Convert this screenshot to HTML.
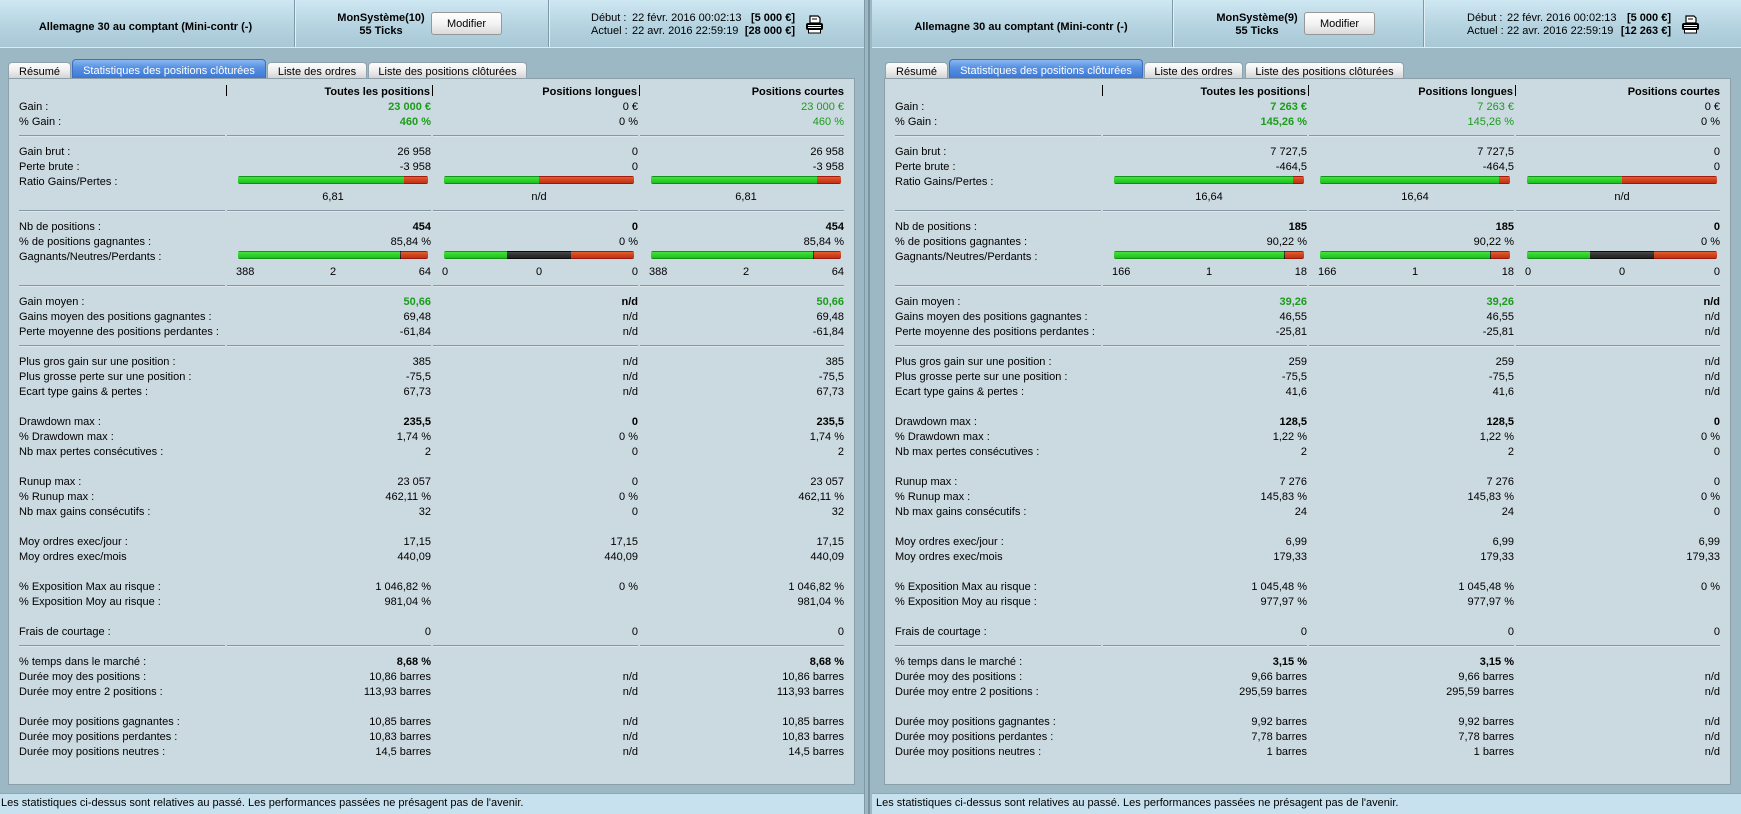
<!DOCTYPE html>
<html><head><meta charset="utf-8">
<style>
*{margin:0;padding:0;box-sizing:border-box}
body{width:1741px;height:814px;overflow:hidden;position:relative;background:#9db8c5;font-family:"Liberation Sans",Arial,sans-serif;font-size:11px;color:#000}
.abs{position:absolute}
.hdr{position:absolute;top:0;height:48px;background:linear-gradient(#cfe8f3,#b5d3e0 55%,#a8c8d6);border-bottom:1px solid #dbebf2}
.vd{position:absolute;top:0;height:47px;width:2px;border-left:1px solid #7f99a7;border-right:1px solid #e0eff6}
.ttl{position:absolute;top:20px;line-height:14px;text-align:center;font-weight:bold;white-space:nowrap}
.sys{position:absolute;top:12px;width:100px;line-height:13px;text-align:center;font-weight:bold;white-space:nowrap}
.btn{position:absolute;top:12px;height:23px;width:71px;border:1px solid #979797;border-radius:3px;background:linear-gradient(#fff,#f3f3f3 50%,#dadada);text-align:center;line-height:23px}
.dt{position:absolute;top:12px;height:26px}
.dt div{position:relative;height:13px;line-height:13px;white-space:nowrap}
.dt span{position:absolute;top:0}
.tab{position:absolute;top:62px;height:16px;line-height:19px;text-align:center;border:1px solid #8ea2ad;border-bottom:none;border-radius:4px 4px 0 0;background:linear-gradient(#fdfdfd,#ececec 55%,#d4d4d4);white-space:nowrap}
.tab.on{top:59px;height:19px;line-height:22px;color:#fff;background:linear-gradient(#8ab8f0,#5a93e3 40%,#3d77d3);border-color:#3b6fc0}
.pnl{position:absolute;top:78px;height:707px;width:847px;background:#cbd9e0;border:1px solid #8d9fa9}
.grp{position:absolute;top:83px;width:870px}
.r{position:relative;height:15px;line-height:15px;white-space:nowrap}
.r>span{position:absolute;top:2px}
.l{left:19px}
.a{left:227px;width:204px;text-align:right}
.m{left:433px;width:205px;text-align:right}
.c{left:640px;width:204px;text-align:right}
.b{font-weight:bold}
.g{color:#1b9d1b}
.cx{width:80px;margin-left:-40px;text-align:center}
.ln{position:absolute;top:7px;height:2px;border-top:1px solid #8598a4;border-bottom:1px solid #dce6eb}
.l1{left:19px;width:206px}.l2{left:227px;width:204px}.l3{left:433px;width:205px}.l4{left:640px;width:204px}
.vb{position:absolute;top:2px;width:1px;height:11px;background:#000}
.bar{position:absolute;top:3px;height:8px;width:190px;display:flex;border-radius:2px;overflow:hidden}
.bar i{display:block;height:8px}
.G{background:linear-gradient(#13921a 0,#13921a 1px,#45e23c 1px,#2fd22b 4px,#22bd22 7px,#138c16 7px)}
.R{background:linear-gradient(#a3190f 0,#a3190f 1px,#e0602e 1px,#d2441f 4px,#bd3419 7px,#961a10 7px)}
.K{background:linear-gradient(#0a0a0a 0,#0a0a0a 1px,#4a4a4a 1px,#303030 4px,#222 7px,#0a0a0a 7px)}
.b1{left:238px}.b2{left:444px}.b3{left:651px}
.ft{position:absolute;top:793px;height:21px;background:#c7e2ee;border-top:1px solid #8ea7b3;line-height:19px;white-space:nowrap}
</style></head><body>

<!-- splitter -->
<div class="abs" style="left:864px;top:0;width:1px;height:814px;background:#7f99a6"></div>
<div class="abs" style="left:868px;top:0;width:2px;height:814px;background:#7a94a2"></div>

<!-- LEFT HEADER -->
<div class="hdr" style="left:0;width:864px"></div>
<div class="vd" style="left:294px"></div>
<div class="vd" style="left:548px"></div>
<div class="ttl" style="left:0;width:291px">Allemagne 30 au comptant (Mini-contr (-)</div>
<div class="sys" style="left:331px">MonSystème(10)<br>55 Ticks</div>
<div class="btn" style="left:431px">Modifier</div>
<div class="dt" style="left:591px;width:204px">
<div><span style="left:0">Début :</span><span style="left:41px">22 févr. 2016 00:02:13</span><span class="b" style="right:0">[5 000 €]</span></div>
<div><span style="left:0">Actuel :</span><span style="left:41px">22 avr. 2016 22:59:19</span><span class="b" style="right:0">[28 000 €]</span></div>
</div>
<svg class="abs" style="left:805px;top:15px" width="19" height="19" viewBox="0 0 19 19">
<path d="M5 1 L13 1 L15 3 L15 8 L5 8 Z" fill="#fff" stroke="#000" stroke-width="1.2"/>
<line x1="7" y1="4" x2="12" y2="4" stroke="#000"/>
<rect x="1" y="8" width="17" height="7" rx="2" fill="#000"/>
<line x1="3" y1="10.5" x2="16" y2="10.5" stroke="#fff"/>
<line x1="3" y1="12.5" x2="16" y2="12.5" stroke="#fff"/>
<rect x="3.5" y="14.5" width="12" height="3.5" fill="#fff" stroke="#000"/>
</svg>

<!-- LEFT TABS / PANEL -->
<div class="pnl" style="left:8px"></div>
<div class="tab" style="left:8px;width:63px">Résumé</div>
<div class="tab on" style="left:72px;width:194px">Statistiques des positions clôturées</div>
<div class="tab" style="left:267px;width:100px">Liste des ordres</div>
<div class="tab" style="left:368px;width:159px">Liste des positions clôturées</div>

<div class="grp" style="left:0">
<div class="r b"><i class="vb" style="left:226px"></i><span class="a" style="width:203px">Toutes les positions</span><i class="vb" style="left:432px"></i><span class="m" style="width:204px">Positions longues</span><i class="vb" style="left:639px"></i><span class="c">Positions courtes</span></div>
<div class="r"><span class="l">Gain :</span><span class="a b g">23 000 €</span><span class="m">0 €</span><span class="c g">23 000 €</span></div>
<div class="r"><span class="l">% Gain :</span><span class="a b g">460 %</span><span class="m">0 %</span><span class="c g">460 %</span></div>
<div class="r"><i class="ln l1"></i><i class="ln l2"></i><i class="ln l3"></i><i class="ln l4"></i></div>
<div class="r"><span class="l">Gain brut :</span><span class="a">26 958</span><span class="m">0</span><span class="c">26 958</span></div>
<div class="r"><span class="l">Perte brute :</span><span class="a">-3 958</span><span class="m">0</span><span class="c">-3 958</span></div>
<div class="r"><span class="l">Ratio Gains/Pertes :</span>
<div class="bar b1"><i class="G" style="width:166px"></i><i class="R" style="width:24px"></i></div>
<div class="bar b2"><i class="G" style="width:95px"></i><i class="R" style="width:95px"></i></div>
<div class="bar b3"><i class="G" style="width:166px"></i><i class="R" style="width:24px"></i></div></div>
<div class="r"><span class="cx" style="left:333px">6,81</span><span class="cx" style="left:539px">n/d</span><span class="cx" style="left:746px">6,81</span></div>
<div class="r"><i class="ln l1"></i><i class="ln l2"></i><i class="ln l3"></i><i class="ln l4"></i></div>
<div class="r"><span class="l">Nb de positions :</span><span class="a b">454</span><span class="m b">0</span><span class="c b">454</span></div>
<div class="r"><span class="l">% de positions gagnantes :</span><span class="a">85,84 %</span><span class="m">0 %</span><span class="c">85,84 %</span></div>
<div class="r"><span class="l">Gagnants/Neutres/Perdants :</span>
<div class="bar b1"><i class="G" style="width:162px"></i><i class="K" style="width:1px"></i><i class="R" style="width:27px"></i></div>
<div class="bar b2"><i class="G" style="width:63px"></i><i class="K" style="width:64px"></i><i class="R" style="width:63px"></i></div>
<div class="bar b3"><i class="G" style="width:162px"></i><i class="K" style="width:1px"></i><i class="R" style="width:27px"></i></div></div>
<div class="r"><span style="left:236px">388</span><span class="cx" style="left:333px">2</span><span class="a">64</span><span style="left:442px">0</span><span class="cx" style="left:539px">0</span><span class="m">0</span><span style="left:649px">388</span><span class="cx" style="left:746px">2</span><span class="c">64</span></div>
<div class="r"><i class="ln l1"></i><i class="ln l2"></i><i class="ln l3"></i><i class="ln l4"></i></div>
<div class="r"><span class="l">Gain moyen :</span><span class="a b g">50,66</span><span class="m b">n/d</span><span class="c b g">50,66</span></div>
<div class="r"><span class="l">Gains moyen des positions gagnantes :</span><span class="a">69,48</span><span class="m">n/d</span><span class="c">69,48</span></div>
<div class="r"><span class="l">Perte moyenne des positions perdantes :</span><span class="a">-61,84</span><span class="m">n/d</span><span class="c">-61,84</span></div>
<div class="r"><i class="ln l1"></i><i class="ln l2"></i><i class="ln l3"></i><i class="ln l4"></i></div>
<div class="r"><span class="l">Plus gros gain sur une position :</span><span class="a">385</span><span class="m">n/d</span><span class="c">385</span></div>
<div class="r"><span class="l">Plus grosse perte sur une position :</span><span class="a">-75,5</span><span class="m">n/d</span><span class="c">-75,5</span></div>
<div class="r"><span class="l">Ecart type gains &amp; pertes :</span><span class="a">67,73</span><span class="m">n/d</span><span class="c">67,73</span></div>
<div class="r"></div>
<div class="r"><span class="l">Drawdown max :</span><span class="a b">235,5</span><span class="m b">0</span><span class="c b">235,5</span></div>
<div class="r"><span class="l">% Drawdown max :</span><span class="a">1,74 %</span><span class="m">0 %</span><span class="c">1,74 %</span></div>
<div class="r"><span class="l">Nb max pertes consécutives :</span><span class="a">2</span><span class="m">0</span><span class="c">2</span></div>
<div class="r"></div>
<div class="r"><span class="l">Runup max :</span><span class="a">23 057</span><span class="m">0</span><span class="c">23 057</span></div>
<div class="r"><span class="l">% Runup max :</span><span class="a">462,11 %</span><span class="m">0 %</span><span class="c">462,11 %</span></div>
<div class="r"><span class="l">Nb max gains consécutifs :</span><span class="a">32</span><span class="m">0</span><span class="c">32</span></div>
<div class="r"></div>
<div class="r"><span class="l">Moy ordres exec/jour :</span><span class="a">17,15</span><span class="m">17,15</span><span class="c">17,15</span></div>
<div class="r"><span class="l">Moy ordres exec/mois</span><span class="a">440,09</span><span class="m">440,09</span><span class="c">440,09</span></div>
<div class="r"></div>
<div class="r"><span class="l">% Exposition Max au risque :</span><span class="a">1 046,82 %</span><span class="m">0 %</span><span class="c">1 046,82 %</span></div>
<div class="r"><span class="l">% Exposition Moy au risque :</span><span class="a">981,04 %</span><span class="c">981,04 %</span></div>
<div class="r"></div>
<div class="r"><span class="l">Frais de courtage :</span><span class="a">0</span><span class="m">0</span><span class="c">0</span></div>
<div class="r"><i class="ln l1"></i><i class="ln l2"></i><i class="ln l3"></i><i class="ln l4"></i></div>
<div class="r"><span class="l">% temps dans le marché :</span><span class="a b">8,68 %</span><span class="c b">8,68 %</span></div>
<div class="r"><span class="l">Durée moy des positions :</span><span class="a">10,86 barres</span><span class="m">n/d</span><span class="c">10,86 barres</span></div>
<div class="r"><span class="l">Durée moy entre 2 positions :</span><span class="a">113,93 barres</span><span class="m">n/d</span><span class="c">113,93 barres</span></div>
<div class="r"></div>
<div class="r"><span class="l">Durée moy positions gagnantes :</span><span class="a">10,85 barres</span><span class="m">n/d</span><span class="c">10,85 barres</span></div>
<div class="r"><span class="l">Durée moy positions perdantes :</span><span class="a">10,83 barres</span><span class="m">n/d</span><span class="c">10,83 barres</span></div>
<div class="r"><span class="l">Durée moy positions neutres :</span><span class="a">14,5 barres</span><span class="m">n/d</span><span class="c">14,5 barres</span></div>
</div>

<div class="ft" style="left:0;width:864px;padding-left:1px">Les statistiques ci-dessus sont relatives au passé. Les performances passées ne présagent pas de l'avenir.</div>

<!-- RIGHT HEADER -->
<div class="hdr" style="left:872px;width:869px"></div>
<div class="vd" style="left:1172px"></div>
<div class="vd" style="left:1423px"></div>
<div class="ttl" style="left:873px;width:296px">Allemagne 30 au comptant (Mini-contr (-)</div>
<div class="sys" style="left:1207px">MonSystème(9)<br>55 Ticks</div>
<div class="btn" style="left:1304px">Modifier</div>
<div class="dt" style="left:1467px;width:204px">
<div><span style="left:0">Début :</span><span style="left:40px">22 févr. 2016 00:02:13</span><span class="b" style="right:0">[5 000 €]</span></div>
<div><span style="left:0">Actuel :</span><span style="left:40px">22 avr. 2016 22:59:19</span><span class="b" style="right:0">[12 263 €]</span></div>
</div>
<svg class="abs" style="left:1681px;top:15px" width="19" height="19" viewBox="0 0 19 19">
<path d="M5 1 L13 1 L15 3 L15 8 L5 8 Z" fill="#fff" stroke="#000" stroke-width="1.2"/>
<line x1="7" y1="4" x2="12" y2="4" stroke="#000"/>
<rect x="1" y="8" width="17" height="7" rx="2" fill="#000"/>
<line x1="3" y1="10.5" x2="16" y2="10.5" stroke="#fff"/>
<line x1="3" y1="12.5" x2="16" y2="12.5" stroke="#fff"/>
<rect x="3.5" y="14.5" width="12" height="3.5" fill="#fff" stroke="#000"/>
</svg>

<!-- RIGHT TABS / PANEL -->
<div class="pnl" style="left:884px"></div>
<div class="tab" style="left:885px;width:63px">Résumé</div>
<div class="tab on" style="left:949px;width:194px">Statistiques des positions clôturées</div>
<div class="tab" style="left:1144px;width:99px">Liste des ordres</div>
<div class="tab" style="left:1245px;width:159px">Liste des positions clôturées</div>

<div class="grp" style="left:876px">
<div class="r b"><i class="vb" style="left:226px"></i><span class="a" style="width:203px">Toutes les positions</span><i class="vb" style="left:432px"></i><span class="m" style="width:204px">Positions longues</span><i class="vb" style="left:639px"></i><span class="c">Positions courtes</span></div>
<div class="r"><span class="l">Gain :</span><span class="a b g">7 263 €</span><span class="m g">7 263 €</span><span class="c">0 €</span></div>
<div class="r"><span class="l">% Gain :</span><span class="a b g">145,26 %</span><span class="m g">145,26 %</span><span class="c">0 %</span></div>
<div class="r"><i class="ln l1"></i><i class="ln l2"></i><i class="ln l3"></i><i class="ln l4"></i></div>
<div class="r"><span class="l">Gain brut :</span><span class="a">7 727,5</span><span class="m">7 727,5</span><span class="c">0</span></div>
<div class="r"><span class="l">Perte brute :</span><span class="a">-464,5</span><span class="m">-464,5</span><span class="c">0</span></div>
<div class="r"><span class="l">Ratio Gains/Pertes :</span>
<div class="bar b1"><i class="G" style="width:179px"></i><i class="R" style="width:11px"></i></div>
<div class="bar b2"><i class="G" style="width:179px"></i><i class="R" style="width:11px"></i></div>
<div class="bar b3"><i class="G" style="width:95px"></i><i class="R" style="width:95px"></i></div></div>
<div class="r"><span class="cx" style="left:333px">16,64</span><span class="cx" style="left:539px">16,64</span><span class="cx" style="left:746px">n/d</span></div>
<div class="r"><i class="ln l1"></i><i class="ln l2"></i><i class="ln l3"></i><i class="ln l4"></i></div>
<div class="r"><span class="l">Nb de positions :</span><span class="a b">185</span><span class="m b">185</span><span class="c b">0</span></div>
<div class="r"><span class="l">% de positions gagnantes :</span><span class="a">90,22 %</span><span class="m">90,22 %</span><span class="c">0 %</span></div>
<div class="r"><span class="l">Gagnants/Neutres/Perdants :</span>
<div class="bar b1"><i class="G" style="width:170px"></i><i class="K" style="width:1px"></i><i class="R" style="width:19px"></i></div>
<div class="bar b2"><i class="G" style="width:170px"></i><i class="K" style="width:1px"></i><i class="R" style="width:19px"></i></div>
<div class="bar b3"><i class="G" style="width:63px"></i><i class="K" style="width:64px"></i><i class="R" style="width:63px"></i></div></div>
<div class="r"><span style="left:236px">166</span><span class="cx" style="left:333px">1</span><span class="a">18</span><span style="left:442px">166</span><span class="cx" style="left:539px">1</span><span class="m">18</span><span style="left:649px">0</span><span class="cx" style="left:746px">0</span><span class="c">0</span></div>
<div class="r"><i class="ln l1"></i><i class="ln l2"></i><i class="ln l3"></i><i class="ln l4"></i></div>
<div class="r"><span class="l">Gain moyen :</span><span class="a b g">39,26</span><span class="m b g">39,26</span><span class="c b">n/d</span></div>
<div class="r"><span class="l">Gains moyen des positions gagnantes :</span><span class="a">46,55</span><span class="m">46,55</span><span class="c">n/d</span></div>
<div class="r"><span class="l">Perte moyenne des positions perdantes :</span><span class="a">-25,81</span><span class="m">-25,81</span><span class="c">n/d</span></div>
<div class="r"><i class="ln l1"></i><i class="ln l2"></i><i class="ln l3"></i><i class="ln l4"></i></div>
<div class="r"><span class="l">Plus gros gain sur une position :</span><span class="a">259</span><span class="m">259</span><span class="c">n/d</span></div>
<div class="r"><span class="l">Plus grosse perte sur une position :</span><span class="a">-75,5</span><span class="m">-75,5</span><span class="c">n/d</span></div>
<div class="r"><span class="l">Ecart type gains &amp; pertes :</span><span class="a">41,6</span><span class="m">41,6</span><span class="c">n/d</span></div>
<div class="r"></div>
<div class="r"><span class="l">Drawdown max :</span><span class="a b">128,5</span><span class="m b">128,5</span><span class="c b">0</span></div>
<div class="r"><span class="l">% Drawdown max :</span><span class="a">1,22 %</span><span class="m">1,22 %</span><span class="c">0 %</span></div>
<div class="r"><span class="l">Nb max pertes consécutives :</span><span class="a">2</span><span class="m">2</span><span class="c">0</span></div>
<div class="r"></div>
<div class="r"><span class="l">Runup max :</span><span class="a">7 276</span><span class="m">7 276</span><span class="c">0</span></div>
<div class="r"><span class="l">% Runup max :</span><span class="a">145,83 %</span><span class="m">145,83 %</span><span class="c">0 %</span></div>
<div class="r"><span class="l">Nb max gains consécutifs :</span><span class="a">24</span><span class="m">24</span><span class="c">0</span></div>
<div class="r"></div>
<div class="r"><span class="l">Moy ordres exec/jour :</span><span class="a">6,99</span><span class="m">6,99</span><span class="c">6,99</span></div>
<div class="r"><span class="l">Moy ordres exec/mois</span><span class="a">179,33</span><span class="m">179,33</span><span class="c">179,33</span></div>
<div class="r"></div>
<div class="r"><span class="l">% Exposition Max au risque :</span><span class="a">1 045,48 %</span><span class="m">1 045,48 %</span><span class="c">0 %</span></div>
<div class="r"><span class="l">% Exposition Moy au risque :</span><span class="a">977,97 %</span><span class="m">977,97 %</span></div>
<div class="r"></div>
<div class="r"><span class="l">Frais de courtage :</span><span class="a">0</span><span class="m">0</span><span class="c">0</span></div>
<div class="r"><i class="ln l1"></i><i class="ln l2"></i><i class="ln l3"></i><i class="ln l4"></i></div>
<div class="r"><span class="l">% temps dans le marché :</span><span class="a b">3,15 %</span><span class="m b">3,15 %</span></div>
<div class="r"><span class="l">Durée moy des positions :</span><span class="a">9,66 barres</span><span class="m">9,66 barres</span><span class="c">n/d</span></div>
<div class="r"><span class="l">Durée moy entre 2 positions :</span><span class="a">295,59 barres</span><span class="m">295,59 barres</span><span class="c">n/d</span></div>
<div class="r"></div>
<div class="r"><span class="l">Durée moy positions gagnantes :</span><span class="a">9,92 barres</span><span class="m">9,92 barres</span><span class="c">n/d</span></div>
<div class="r"><span class="l">Durée moy positions perdantes :</span><span class="a">7,78 barres</span><span class="m">7,78 barres</span><span class="c">n/d</span></div>
<div class="r"><span class="l">Durée moy positions neutres :</span><span class="a">1 barres</span><span class="m">1 barres</span><span class="c">n/d</span></div>
</div>

<div class="ft" style="left:872px;width:869px;padding-left:4px">Les statistiques ci-dessus sont relatives au passé. Les performances passées ne présagent pas de l'avenir.</div>

</body></html>
